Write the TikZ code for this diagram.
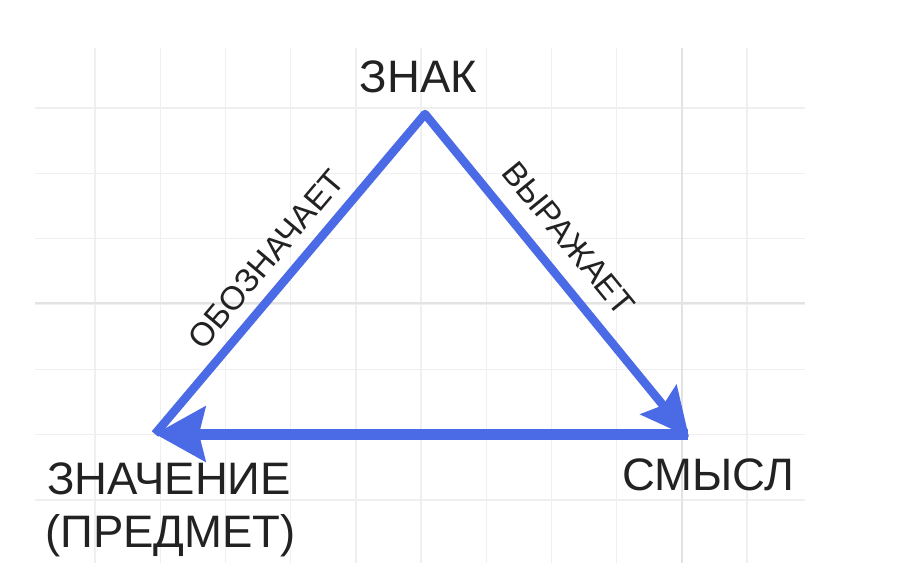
\documentclass[tikz,border=0pt]{standalone}
\usepackage{fontspec}
\setmainfont{Liberation Sans}
\usetikzlibrary{arrows.meta}
\definecolor{tblue}{HTML}{4A6BE5}
\definecolor{tgrid}{HTML}{EFEFEF}
\definecolor{tgridd}{HTML}{E3E3E3}
\definecolor{ttext}{HTML}{222222}
\begin{document}
\begin{tikzpicture}[x=1pt,y=-1pt,
  gridline/.style={tgrid, line width=1.4pt},
  gridlinedark/.style={tgridd, line width=1.4pt},
  edge/.style={tblue, line width=8.5pt, line join=round},
  baseedge/.style={tblue, line width=11pt},
  vlabel/.style={text=ttext, font=\fontsize{45.5}{50}\selectfont, inner sep=0pt},
  elabel/.style={text=ttext, font=\fontsize{33}{38}\selectfont, inner sep=0pt, sloped}]
\useasboundingbox (0,0) rectangle (900,580);
\fill[white] (0,0) rectangle (900,580);
% grid
\foreach \i in {0,...,10} \draw[gridline] ({95+65.2*\i},48) -- ({95+65.2*\i},563);
\foreach \j in {0,...,6} \draw[gridline] (35,{108+65.3*\j}) -- (805,{108+65.3*\j});
\draw[gridlinedark] (682,48) -- (682,563);
\draw[gridlinedark] (35,303) -- (805,303);
% points
\coordinate (apex) at (425,114);
\coordinate (znTip) at (155,434);
\coordinate (smTip) at (689,437);
\coordinate (baseStart) at (688,434);
% edges
\draw[edge, -{Stealth[length=48pt,width=46pt,inset=7pt]}] (znTip)
  -- node[elabel, above=12pt, pos=0.49] (lblo) {ОБОЗНАЧАЕТ} (apex)
  -- node[elabel, above=17pt, pos=0.45] (lblv) {ВЫРАЖАЕТ} (smTip);
\draw[baseedge, -{Stealth[length=50pt,width=54pt,inset=6pt]}] (baseStart) -- (znTip);
% labels
\node[vlabel, anchor=base] (znak) at (418.5,93) {ЗНАК};
\node[vlabel, anchor=base west] (znach) at (47,494) {ЗНАЧЕНИЕ};
\node[vlabel, anchor=base west] (predmet) at (45,547) {(ПРЕДМЕТ)};
\node[vlabel, anchor=base] (smysl) at (708,490) {СМЫСЛ};
\end{tikzpicture}
\end{document}
